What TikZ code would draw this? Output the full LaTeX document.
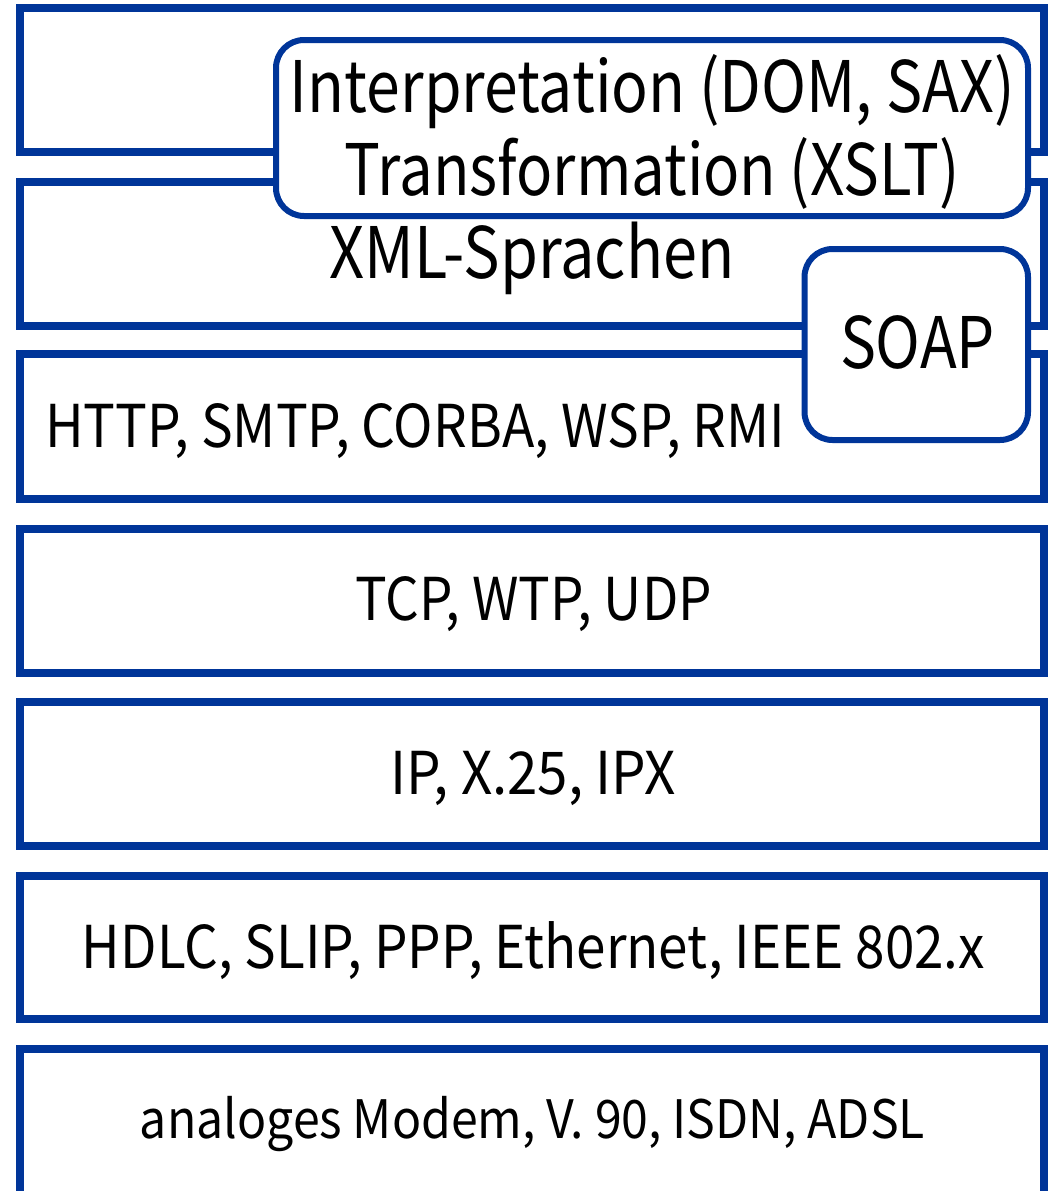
\documentclass[tikz,border=0pt]{standalone}
\usepackage{fontspec}
\setmainfont{Noto Sans CJK JP}
\definecolor{layerblue}{RGB}{0,53,153}
\tikzset{
  layer/.style={draw=layerblue, line width=8pt, fill=white},
  roundbox/.style={draw=layerblue, line width=6pt, fill=white, rounded corners=28pt},
  lbl/.style={anchor=base, inner sep=0pt, text=black},
}
% text at a given size, set to a given overall width
\newcommand{\fittxt}[3]{\resizebox{#2pt}{\height}{\fontsize{#1}{#1}\selectfont #3}}
\begin{document}
\begin{tikzpicture}[x=1pt, y=-1pt]
  \useasboundingbox (0,0) rectangle (1053,1191);
  % protocol layers, top to bottom
  \draw[layer] (20,8)      rectangle (1044,152);
  \draw[layer] (20,181.5)  rectangle (1044,325.5);
  \draw[layer] (20,354)    rectangle (1044,499);
  \draw[layer] (20,528.5)  rectangle (1044,672.5);
  \draw[layer] (20,702)    rectangle (1044,846);
  \draw[layer] (20,875.5)  rectangle (1044,1019);
  \draw[layer] (20,1048.5) rectangle (1044,1195);
  % overlapping rounded boxes
  \draw[roundbox] (276,40) rectangle (1028,216);
  \draw[roundbox] (804.5,249) rectangle (1028,440);
  % labels
  \node[lbl] (interp) at (652.5,112) {\fittxt{71}{725}{Interpretation (DOM, SAX)}};
  \node[lbl] (trans)  at (652.5,195) {\fittxt{71}{615}{Transformation (XSLT)}};
  \node[lbl] (xml)    at (532,278)   {\fittxt{71}{405}{XML-Sprachen}};
  \node[lbl] (soap)   at (917.5,368) {\fittxt{71}{155}{SOAP}};
  \node[lbl, anchor=base west] (app) at (45,447) {\fittxt{59}{740}{HTTP, SMTP, CORBA, WSP, RMI}};
  \node[lbl] (tcp)    at (533.5,620) {\fittxt{59}{357}{TCP, WTP, UDP}};
  \node[lbl] (ip)     at (533,794)   {\fittxt{59}{286}{IP, X.25, IPX}};
  \node[lbl] (hdlc)   at (533.5,968) {\fittxt{59}{903}{HDLC, SLIP, PPP, Ethernet, IEEE 802.x}};
  \node[lbl] (phys)   at (532.5,1138) {\fittxt{53}{785}{analoges Modem, V. 90, ISDN, ADSL}};
\end{tikzpicture}
\end{document}
